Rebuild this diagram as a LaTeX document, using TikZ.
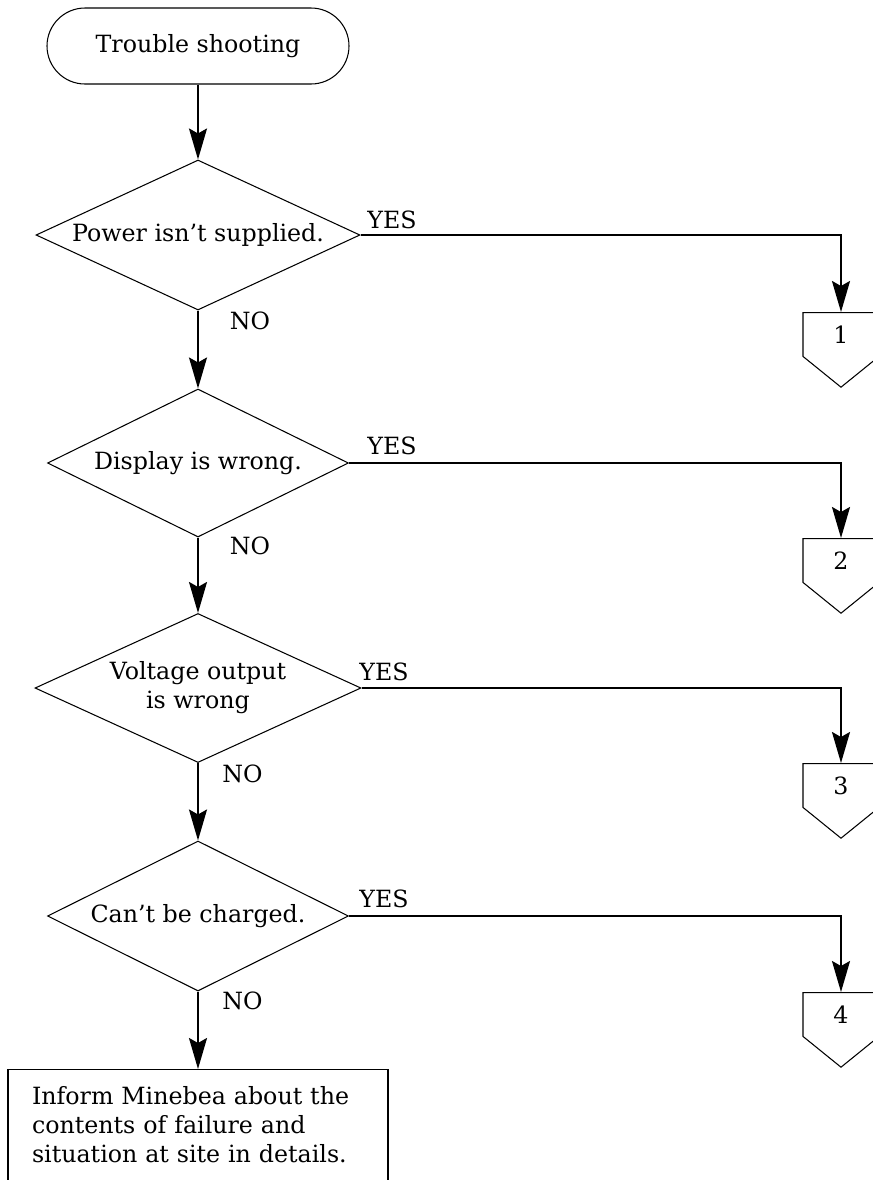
\documentclass[tikz,border=0pt]{standalone}
\usepackage{fontspec}
\setmainfont{DejaVu Serif}
\usetikzlibrary{shapes.geometric,shapes.symbols,arrows.meta}
\begin{document}
\begin{tikzpicture}[font=\fontsize{13.5}{16.5}\selectfont,
  st/.style={draw,line width=0.6pt,rounded corners=0.76cm,minimum width=6.04cm,minimum height=1.52cm,inner sep=0pt},
  dq/.style={draw,diamond,aspect=2.15,line width=0.6pt,inner sep=0pt,align=center},
  pg/.style={draw,signal,signal to=south,signal pointer angle=102,line width=0.6pt,minimum width=1.52cm,minimum height=1.0cm,inner sep=0pt,anchor=north},
  bx/.style={draw,line width=0.6pt,text width=6.64cm,inner xsep=0.48cm,inner ysep=0.34cm,align=left,anchor=north},
  ln/.style={line width=1.15pt,-{Stealth[length=0.62cm,width=0.36cm,inset=0.1cm]}}]
  \useasboundingbox (0,0) rectangle (17.46,-23.6);
  \clip (0,0) rectangle (17.46,-23.6);
  \node[st] (ts) at (3.96,-0.92){Trouble shooting};
  \node[dq,minimum width=6.48cm,minimum height=3.0cm] (d1) at (3.96,-4.7){Power isn't supplied.};
  \node[dq,minimum width=6.02cm,minimum height=2.96cm] (d2) at (3.96,-9.26){Display is wrong.};
  \node[dq,minimum width=6.52cm,minimum height=2.98cm] (d3) at (3.96,-13.76){Voltage output\\is wrong};
  \node[dq,minimum width=6.02cm,minimum height=3.0cm] (d4) at (3.96,-18.32){Can't be charged.};
  \node[bx] (inf) at (3.96,-21.38){Inform Minebea about the\\contents of failure and\\situation at site in details.\rule[-1cm]{0pt}{1cm}};
  \node[pg] (p1) at (16.82,-6.24){1};
  \node[pg] (p2) at (16.82,-10.76){2};
  \node[pg] (p3) at (16.82,-15.26){3};
  \node[pg] (p4) at (16.82,-19.84){4};
  \node (y1) at (7.84,-4.40){YES};
  \node (y2) at (7.84,-8.92){YES};
  \node (y3) at (7.68,-13.44){YES};
  \node (y4) at (7.68,-17.98){YES};
  \node (n1) at (5.0,-6.42){NO};
  \node (n2) at (5.0,-10.92){NO};
  \node (n3) at (4.85,-15.48){NO};
  \node (n4) at (4.85,-20.02){NO};
  \draw[ln] (ts) -- (d1);
  \draw[ln] (d1) -- (d2);
  \draw[ln] (d2) -- (d3);
  \draw[ln] (d3) -- (d4);
  \draw[ln] (d4) -- (inf);
  \draw[ln] (d1.east) -| (p1.north);
  \draw[ln] (d2.east) -| (p2.north);
  \draw[ln] (d3.east) -| (p3.north);
  \draw[ln] (d4.east) -| (p4.north);
\end{tikzpicture}
\end{document}
